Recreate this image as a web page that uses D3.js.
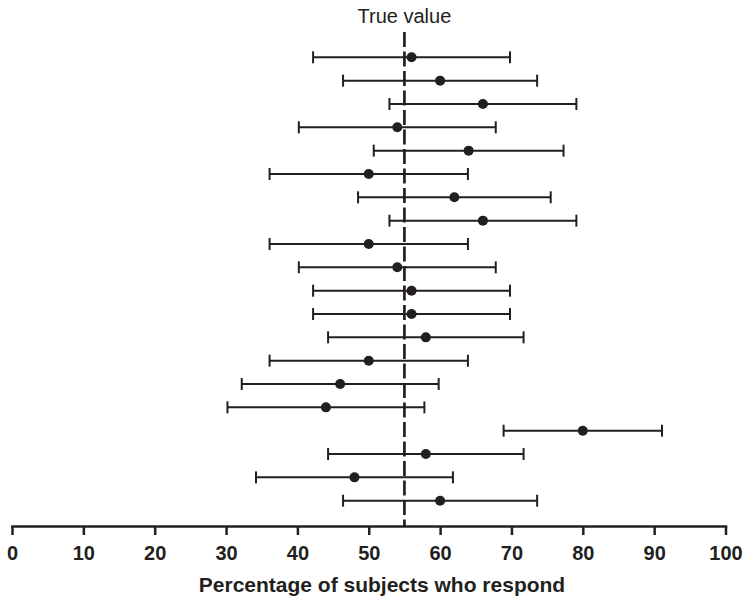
<!DOCTYPE html>
<meta charset="utf-8">
<style>
body { margin: 0; background: #fff; }
svg { display: block; font-family: "Liberation Sans", Arial, Helvetica, sans-serif; }
.axis path, .axis line { stroke: #231f20; stroke-width: 2.5px; }
.axis text { font-size: 20px; font-weight: bold; fill: #231f20; }
</style>
<svg width="744" height="599"></svg>
<script src="https://cdnjs.cloudflare.com/ajax/libs/d3/7.8.5/d3.min.js"></script>
<script>

// Percent responding in each sample, with its 95% interval
var means = [56, 60, 66, 54, 64, 50, 62, 66, 50, 54, 56, 56, 58, 50, 46, 44, 80, 58, 48, 60];
var lower = [42.2, 46.4, 52.9, 40.2, 50.7, 36.1, 48.5, 52.9, 36.1, 40.2, 42.2, 42.2, 44.3, 36.1, 32.2, 30.2, 68.9, 44.3, 34.2, 46.4];
var upper = [69.8, 73.6, 79.1, 67.8, 77.3, 63.9, 75.5, 79.1, 63.9, 67.8, 69.8, 69.8, 71.7, 63.9, 59.8, 57.8, 91.1, 71.7, 61.8, 73.6];
var trueValue = 55;
var xTicks = [0, 10, 20, 30, 40, 50, 60, 70, 80, 90, 100];

var ink = "#231f20";
var svg = d3.select("svg");

var x = d3.scaleLinear().domain([0, 100]).range([12, 725.5]);
var y = d3.scalePoint().domain(d3.range(means.length)).range([57.3, 500.7]);
var axisY = 526;

var rows = means.map(function(m, i) { return {i: i, mean: m, lo: lower[i], hi: upper[i]}; });

// x axis
svg.append("g")
    .attr("class", "axis")
    .attr("transform", "translate(0," + axisY + ")")
    .call(d3.axisBottom(x).tickValues(xTicks).tickSize(9).tickSizeOuter(0).tickPadding(11))
    .call(function(g) { g.select(".domain").attr("stroke-linecap", "square"); });

svg.append("text")
    .attr("x", 382)
    .attr("y", 592)
    .attr("text-anchor", "middle")
    .style("font-size", "21px")
    .style("font-weight", "bold")
    .style("fill", ink)
    .text("Percentage of subjects who respond");

// error bars
var bar = svg.append("g").selectAll("g")
    .data(rows)
    .enter().append("g")
      .attr("stroke", ink)
      .attr("stroke-width", 2);

bar.append("line")
    .attr("x1", function(d) { return x(d.lo); })
    .attr("x2", function(d) { return x(d.hi); })
    .attr("y1", function(d) { return y(d.i); })
    .attr("y2", function(d) { return y(d.i); });

bar.append("line")
    .attr("x1", function(d) { return x(d.lo); })
    .attr("x2", function(d) { return x(d.lo); })
    .attr("y1", function(d) { return y(d.i) - 6; })
    .attr("y2", function(d) { return y(d.i) + 6; });

bar.append("line")
    .attr("x1", function(d) { return x(d.hi); })
    .attr("x2", function(d) { return x(d.hi); })
    .attr("y1", function(d) { return y(d.i) - 6; })
    .attr("y2", function(d) { return y(d.i) + 6; });

// true value reference line
svg.append("line")
    .attr("x1", x(trueValue))
    .attr("x2", x(trueValue))
    .attr("y1", 32)
    .attr("y2", axisY)
    .attr("stroke", ink)
    .attr("stroke-width", 2.7)
    .attr("stroke-dasharray", "15,4.5");

svg.append("text")
    .attr("x", x(trueValue))
    .attr("y", 22.5)
    .attr("text-anchor", "middle")
    .style("font-size", "20px")
    .style("fill", ink)
    .text("True value");

// sample means
svg.append("g").selectAll("circle")
    .data(rows)
    .enter().append("circle")
      .attr("cx", function(d) { return x(d.mean); })
      .attr("cy", function(d) { return y(d.i); })
      .attr("r", 5)
      .attr("fill", ink);

</script>
